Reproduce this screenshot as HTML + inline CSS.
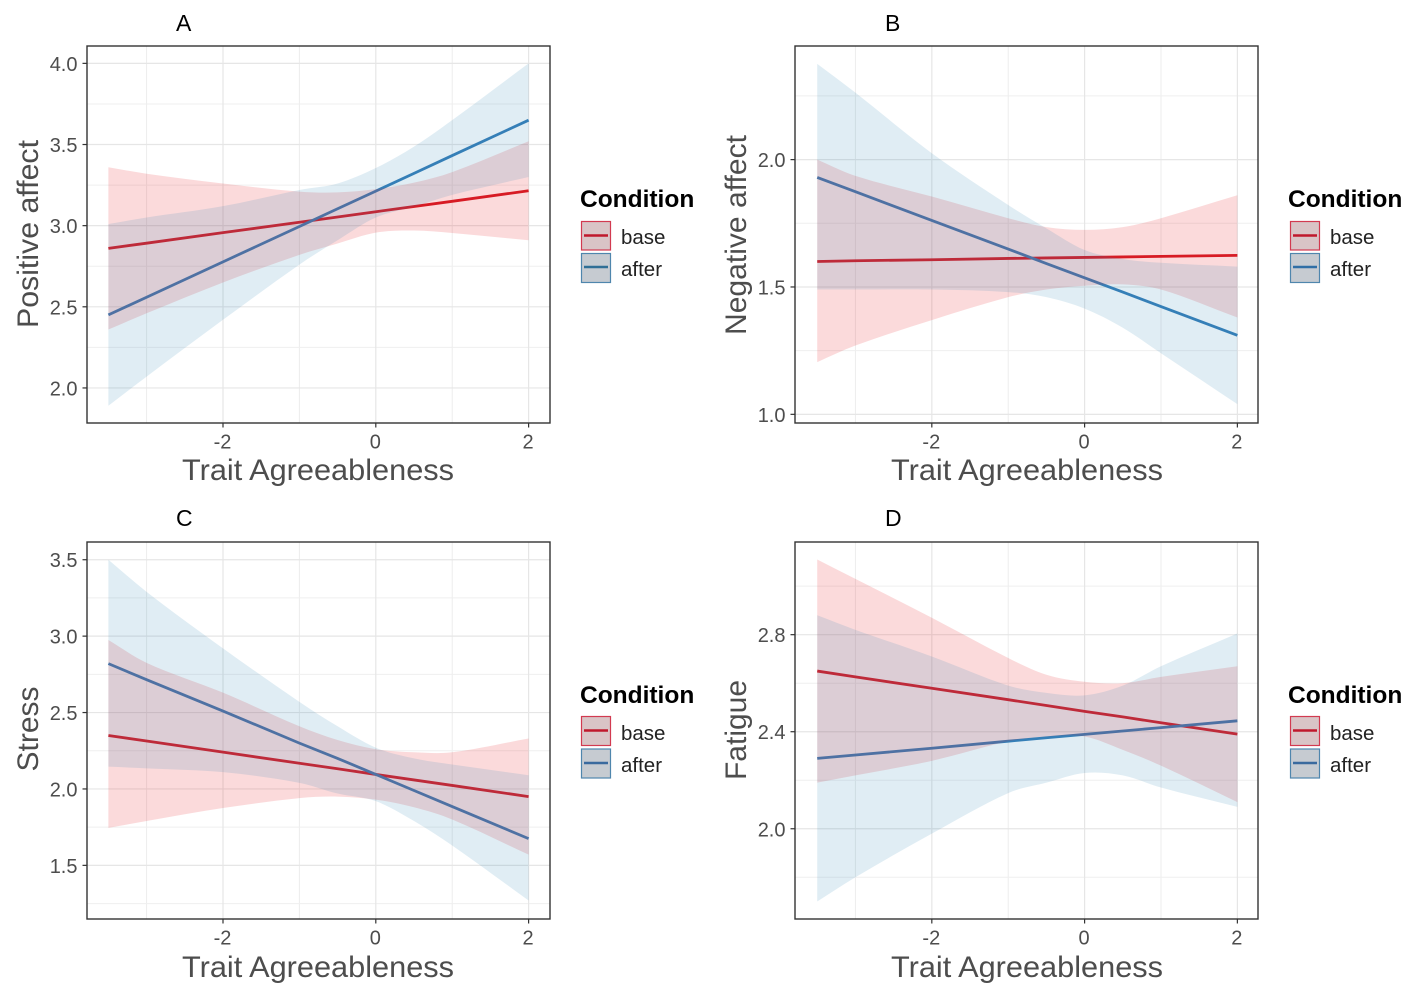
<!DOCTYPE html>
<html lang="en">
<head>
<meta charset="utf-8">
<title>Trait Agreeableness interaction plots</title>
<style>
html,body{margin:0;padding:0;background:#fff;}
svg{display:block;font-family:"Liberation Sans",sans-serif;}
.axis-title{font-size:30px;fill:#4d4d4d;}
.tag{font-size:23px;fill:#000;}
.legend-title{font-size:24.5px;font-weight:bold;fill:#000;}
.legend-label{font-size:20.5px;fill:#222;}
.tick-label{font-size:20px;fill:#4d4d4d;}
</style>
</head>
<body>
<svg id="chart" xmlns="http://www.w3.org/2000/svg" width="1417" height="988" viewBox="0 0 1417 988">
  <rect width="1417" height="988" fill="#fff"/>

  <g id="panel-a"></g>
  <g id="panel-b"></g>
  <g id="panel-c"></g>
  <g id="panel-d"></g>

  <g>
    <text class="tag" x="176" y="31">A</text>
    <text class="axis-title" x="318" y="480" text-anchor="middle" textLength="272" lengthAdjust="spacingAndGlyphs">Trait Agreeableness</text>
    <text class="axis-title" transform="translate(38,234) rotate(-90)" text-anchor="middle" textLength="188" lengthAdjust="spacingAndGlyphs">Positive affect</text>
  </g>
  <g>
    <text class="tag" x="885" y="31">B</text>
    <text class="axis-title" x="1027" y="480" text-anchor="middle" textLength="272" lengthAdjust="spacingAndGlyphs">Trait Agreeableness</text>
    <text class="axis-title" transform="translate(746,235) rotate(-90)" text-anchor="middle" textLength="200" lengthAdjust="spacingAndGlyphs">Negative affect</text>
  </g>
  <g>
    <text class="tag" x="176" y="526">C</text>
    <text class="axis-title" x="318" y="977" text-anchor="middle" textLength="272" lengthAdjust="spacingAndGlyphs">Trait Agreeableness</text>
    <text class="axis-title" transform="translate(38,729) rotate(-90)" text-anchor="middle">Stress</text>
  </g>
  <g>
    <text class="tag" x="885" y="526">D</text>
    <text class="axis-title" x="1027" y="977" text-anchor="middle" textLength="272" lengthAdjust="spacingAndGlyphs">Trait Agreeableness</text>
    <text class="axis-title" transform="translate(746,730) rotate(-90)" text-anchor="middle">Fatigue</text>
  </g>

  <g>
    <text class="legend-title" x="580" y="207">Condition</text>
    <rect x="581.5" y="221.5" width="29" height="28.5" fill="#d9c4c6" stroke="#d23a50" stroke-width="1.2"/>
    <line x1="584" x2="608" y1="235.5" y2="235.5" stroke="#c0182c" stroke-width="2.4"/>
    <text class="legend-label" x="621" y="244">base</text>
    <rect x="581.5" y="253.5" width="29" height="29" fill="#c6cbd1" stroke="#4f86ad" stroke-width="1.2"/>
    <line x1="584" x2="608" y1="267" y2="267" stroke="#2f6f96" stroke-width="2.4"/>
    <text class="legend-label" x="621" y="276">after</text>
  </g>
  <g>
    <text class="legend-title" x="1288" y="207">Condition</text>
    <rect x="1290.5" y="221.5" width="29" height="28.5" fill="#d9c4c6" stroke="#d23a50" stroke-width="1.2"/>
    <line x1="1293" x2="1317" y1="235.5" y2="235.5" stroke="#c0182c" stroke-width="2.4"/>
    <text class="legend-label" x="1330" y="244">base</text>
    <rect x="1290.5" y="253.5" width="29" height="29" fill="#c6cbd1" stroke="#4f86ad" stroke-width="1.2"/>
    <line x1="1293" x2="1317" y1="267" y2="267" stroke="#2f6fa6" stroke-width="2.4"/>
    <text class="legend-label" x="1330" y="276">after</text>
  </g>
  <g>
    <text class="legend-title" x="580" y="703">Condition</text>
    <rect x="581.5" y="716.5" width="29" height="29" fill="#d9c4c6" stroke="#d23a50" stroke-width="1.2"/>
    <line x1="584" x2="608" y1="730.5" y2="730.5" stroke="#c0182c" stroke-width="2.4"/>
    <text class="legend-label" x="621" y="740">base</text>
    <rect x="581.5" y="749" width="29" height="29" fill="#c6cbd1" stroke="#4f86ad" stroke-width="1.2"/>
    <line x1="584" x2="608" y1="763" y2="763" stroke="#3a6a9e" stroke-width="2.4"/>
    <text class="legend-label" x="621" y="772">after</text>
  </g>
  <g>
    <text class="legend-title" x="1288" y="703">Condition</text>
    <rect x="1290.5" y="716.5" width="29" height="29" fill="#d9c4c6" stroke="#d23a50" stroke-width="1.2"/>
    <line x1="1293" x2="1317" y1="730.5" y2="730.5" stroke="#c0182c" stroke-width="2.4"/>
    <text class="legend-label" x="1330" y="740">base</text>
    <rect x="1290.5" y="749" width="29" height="29" fill="#c6cbd1" stroke="#4f86ad" stroke-width="1.2"/>
    <line x1="1293" x2="1317" y1="763" y2="763" stroke="#3a6a9e" stroke-width="2.4"/>
    <text class="legend-label" x="1330" y="772">after</text>
  </g>
</svg>

<script>
// Shared x values and tick labels
const traitX = [-3.5, -3, -2, -1, -0.5, 0, 0.5, 1, 2];
const xTicks = [-2, 0, 2];
const xMinor = [-3, -1, 1];

// Panel A: Positive affect
const aYTicks = [2.0, 2.5, 3.0, 3.5, 4.0];
const aYMinor = [2.25, 2.75, 3.25, 3.75];
const aBaseLine  = [2.86, 2.892, 2.957, 3.021, 3.053, 3.086, 3.118, 3.15, 3.215];
const aBaseUpper = [3.36, 3.32, 3.26, 3.21, 3.205, 3.225, 3.265, 3.33, 3.52];
const aBaseLower = [2.36, 2.46, 2.65, 2.82, 2.89, 2.957, 2.97, 2.955, 2.91];
const aAfterLine  = [2.45, 2.559, 2.777, 2.995, 3.104, 3.213, 3.322, 3.432, 3.65];
const aAfterUpper = [3.01, 3.05, 3.12, 3.22, 3.26, 3.355, 3.487, 3.65, 4.0];
const aAfterLower = [1.89, 2.07, 2.42, 2.76, 2.91, 3.05, 3.117, 3.19, 3.30];

// Panel B: Negative affect
const bYTicks = [1.0, 1.5, 2.0];
const bYMinor = [1.25, 1.75, 2.25];
const bBaseLine  = [1.60, 1.603, 1.607, 1.612, 1.614, 1.616, 1.618, 1.62, 1.624];
const bBaseUpper = [2.0, 1.936, 1.855, 1.77, 1.735, 1.724, 1.735, 1.77, 1.86];
const bBaseLower = [1.205, 1.27, 1.37, 1.46, 1.49, 1.505, 1.51, 1.49, 1.38];
const bAfterLine  = [1.93, 1.874, 1.761, 1.649, 1.592, 1.536, 1.48, 1.423, 1.31];
const bAfterUpper = [2.376, 2.263, 2.025, 1.822, 1.73, 1.645, 1.61, 1.595, 1.58];
const bAfterLower = [1.49, 1.49, 1.49, 1.48, 1.46, 1.415, 1.34, 1.24, 1.04];

// Panel C: Stress
const cYTicks = [1.5, 2.0, 2.5, 3.0, 3.5];
const cYMinor = [1.25, 1.75, 2.25, 2.75, 3.25];
const cBaseLine  = [2.35, 2.314, 2.241, 2.168, 2.132, 2.095, 2.059, 2.023, 1.95];
const cBaseUpper = [2.975, 2.825, 2.63, 2.41, 2.32, 2.26, 2.24, 2.24, 2.33];
const cBaseLower = [1.745, 1.79, 1.875, 1.94, 1.95, 1.93, 1.88, 1.80, 1.57];
const cAfterLine  = [2.82, 2.715, 2.51, 2.30, 2.20, 2.095, 1.99, 1.885, 1.675];
const cAfterUpper = [3.5, 3.29, 2.92, 2.57, 2.41, 2.27, 2.2, 2.16, 2.09];
const cAfterLower = [2.146, 2.135, 2.11, 2.04, 1.97, 1.92, 1.79, 1.63, 1.27];

// Panel D: Fatigue
const dYTicks = [2.0, 2.4, 2.8];
const dYMinor = [1.8, 2.2, 2.6, 3.0];
const dBaseLine  = [2.65, 2.626, 2.579, 2.532, 2.508, 2.484, 2.461, 2.437, 2.39];
const dBaseUpper = [3.11, 3.03, 2.87, 2.704, 2.635, 2.606, 2.6, 2.626, 2.67];
const dBaseLower = [2.19, 2.22, 2.28, 2.36, 2.38, 2.38, 2.325, 2.26, 2.11];
const dAfterLine  = [2.29, 2.304, 2.332, 2.361, 2.375, 2.389, 2.403, 2.417, 2.445];
const dAfterUpper = [2.88, 2.82, 2.71, 2.59, 2.56, 2.55, 2.59, 2.67, 2.805];
const dAfterLower = [1.70, 1.80, 1.98, 2.147, 2.19, 2.23, 2.22, 2.17, 2.09];

const NS = 'http://www.w3.org/2000/svg';

function make(tag, attrs, parent) {
  const el = document.createElementNS(NS, tag);
  Object.keys(attrs).forEach(function (k) { el.setAttribute(k, attrs[k]); });
  parent.appendChild(el);
  return el;
}

function linePath(xs, ys, xScale, yScale) {
  return xs.map(function (v, i) {
    return (i ? 'L' : 'M') + xScale(v).toFixed(2) + ' ' + yScale(ys[i]).toFixed(2);
  }).join(' ');
}

// Smooth curve through already-scaled points (central-difference tangents)
function curveThrough(pts) {
  let d = '';
  function slope(i) {
    const a = pts[Math.max(i - 1, 0)], b = pts[Math.min(i + 1, pts.length - 1)];
    return (b[1] - a[1]) / (b[0] - a[0]);
  }
  for (let i = 0; i < pts.length - 1; i++) {
    const p = pts[i], q = pts[i + 1], dx = (q[0] - p[0]) / 3;
    d += ' C' + (p[0] + dx).toFixed(2) + ' ' + (p[1] + slope(i) * dx).toFixed(2) +
         ' ' + (q[0] - dx).toFixed(2) + ' ' + (q[1] - slope(i + 1) * dx).toFixed(2) +
         ' ' + q[0].toFixed(2) + ' ' + q[1].toFixed(2);
  }
  return d;
}

function ribbonPath(xs, up, lo, xScale, yScale) {
  const topPts = xs.map(function (v, i) { return [xScale(v), yScale(up[i])]; });
  const botPts = xs.map(function (v, i) { return [xScale(v), yScale(lo[i])]; }).reverse();
  return 'M' + topPts[0][0].toFixed(2) + ' ' + topPts[0][1].toFixed(2) + curveThrough(topPts) +
    ' L' + botPts[0][0].toFixed(2) + ' ' + botPts[0][1].toFixed(2) + curveThrough(botPts) + ' Z';
}

function drawPanel(id, box, xDomain, yDomain, yTicks, yMinor, base, after) {
  const g = document.getElementById(id);
  const left = box.left, top = box.top, w = box.width, h = box.height;
  const xScale = function (v) { return left + (v - xDomain[0]) / (xDomain[1] - xDomain[0]) * w; };
  const yScale = function (v) { return top + h - (v - yDomain[0]) / (yDomain[1] - yDomain[0]) * h; };

  xMinor.forEach(function (v) {
    const el = make('line', { x1: xScale(v), x2: xScale(v), y1: top, y2: top + h, stroke: '#ececec', 'stroke-width': 1 }, g);
    
    
  });
  yMinor.forEach(function (v) {
    const el = make('line', { x1: left, x2: left + w, y1: yScale(v), y2: yScale(v), stroke: '#efefef', 'stroke-width': 1 }, g);
    
    
  });
  xTicks.forEach(function (v) {
    const el = make('line', { x1: xScale(v), x2: xScale(v), y1: top, y2: top + h, stroke: '#e6e6e6', 'stroke-width': 1.2 }, g);
    
    
  });
  yTicks.forEach(function (v) {
    const el = make('line', { x1: left, x2: left + w, y1: yScale(v), y2: yScale(v), stroke: '#e6e6e6', 'stroke-width': 1.2 }, g);
    
    
  });

  const baseLine = make('path', { d: linePath(traitX, base.line, xScale, yScale), fill: 'none', stroke: '#d41a24', 'stroke-width': 2.8 }, g);
  
  

  const afterLine = make('path', { d: linePath(traitX, after.line, xScale, yScale), fill: 'none', stroke: '#377eb8', 'stroke-width': 2.8 }, g);
  
  

  const baseRibbon = make('path', { d: ribbonPath(traitX, base.upper, base.lower, xScale, yScale), fill: '#e9262c', 'fill-opacity': 0.17 }, g);
  
  

  const afterRibbon = make('path', { d: ribbonPath(traitX, after.upper, after.lower, xScale, yScale), fill: '#2f86b8', 'fill-opacity': 0.15 }, g);
  
  

  const border = make('rect', { x: left, y: top, width: w, height: h, fill: 'none', stroke: '#333', 'stroke-width': 1.4 }, g);
  
  

  xTicks.forEach(function (v) {
    const tick = make('line', { x1: xScale(v), x2: xScale(v), y1: top + h, y2: top + h + 4.5, stroke: '#333', 'stroke-width': 1.2 }, g);
    
    
    const label = make('text', { x: xScale(v) - 0.5, y: top + h + 25.5, 'text-anchor': 'middle', class: 'tick-label' }, g);
    
    
    label.textContent = String(v);
  });
  yTicks.forEach(function (v) {
    const tick = make('line', { x1: left - 4.5, x2: left, y1: yScale(v), y2: yScale(v), stroke: '#333', 'stroke-width': 1.2 }, g);
    
    
    const label = make('text', { x: left - 9.5, y: yScale(v) + 7.5, 'text-anchor': 'end', class: 'tick-label' }, g);
    
    
    label.textContent = v.toFixed(1);
  });
}

drawPanel('panel-a', { left: 87, top: 46, width: 463, height: 377 }, [-3.78, 2.28], [1.784, 4.107], aYTicks, aYMinor,
  { line: aBaseLine, upper: aBaseUpper, lower: aBaseLower }, { line: aAfterLine, upper: aAfterUpper, lower: aAfterLower });
drawPanel('panel-b', { left: 795, top: 46, width: 463, height: 377 }, [-3.791, 2.27], [0.966, 2.446], bYTicks, bYMinor,
  { line: bBaseLine, upper: bBaseUpper, lower: bBaseLower }, { line: bAfterLine, upper: bAfterUpper, lower: bAfterLower });
drawPanel('panel-c', { left: 87, top: 542, width: 463, height: 377 }, [-3.78, 2.28], [1.149, 3.616], cYTicks, cYMinor,
  { line: cBaseLine, upper: cBaseUpper, lower: cBaseLower }, { line: cAfterLine, upper: cAfterUpper, lower: cAfterLower });
drawPanel('panel-d', { left: 795, top: 542, width: 463, height: 377 }, [-3.791, 2.27], [1.628, 3.182], dYTicks, dYMinor,
  { line: dBaseLine, upper: dBaseUpper, lower: dBaseLower }, { line: dAfterLine, upper: dAfterUpper, lower: dAfterLower });
</script>
</body>
</html>
